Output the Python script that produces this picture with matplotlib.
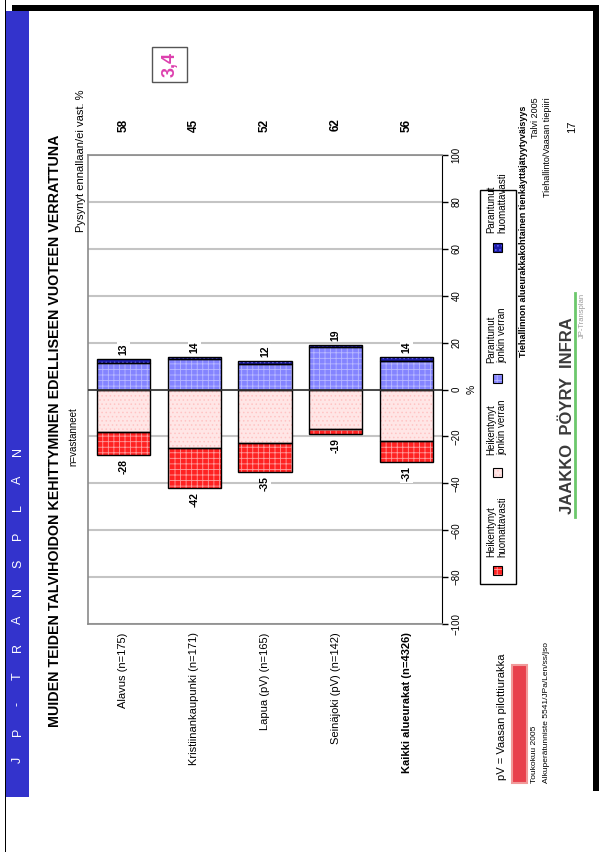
import matplotlib
matplotlib.use('Agg')
import matplotlib.pyplot as plt
from matplotlib.patches import Rectangle
from matplotlib.lines import Line2D
from matplotlib.transforms import blended_transform_factory

plt.rcParams['font.family'] = ['Liberation Sans', 'DejaVu Sans']
plt.rcParams['hatch.linewidth'] = 0.6

# Survey results per area (% of respondents)
categories = ['Alavus (n=175)', 'Kristiinankaupunki (n=171)', 'Lapua (pV) (n=165)',
              'Seinäjoki (pV) (n=142)', 'Kaikki alueurakat (n=4326)']
heik_huom = [-10, -17, -12, -2, -9]        # Heikentynyt huomattavasti
heik_jonkin = [-18, -25, -23, -17, -22]    # Heikentynyt jonkin verran
par_jonkin = [11.5, 13, 11, 18, 12]        # Parantunut jonkin verran
par_huom = [1.5, 1, 1, 1, 2]               # Parantunut huomattavasti
pysynyt = [58, 45, 52, 62, 56]             # Pysynyt ennallaan / ei vastausta
series_names = ['Heikentynyt\nhuomattavasti', 'Heikentynyt\njonkin verran',
                'Parantunut\njonkin verran', 'Parantunut\nhuomattavasti']

# fill, hatch, hatch colour per series
styles = [('#ff2222', '+++', '#ff9c9c'),
          ('#ffe6e6', '....', '#ffc4c4'),
          ('#8484ff', '+++', '#b8b8ff'),
          ('#1c1ca8', '....', '#6a6aff')]

W, H = 599, 852


def fx(px):
    return px / W


def fy(py):
    return 1 - py / H


fig = plt.figure(figsize=(W / 100, H / 100), dpi=100)
ax = fig.add_axes([fx(88), fy(624), fx(442) - fx(88), fy(155) - fy(624)])
tb = blended_transform_factory(ax.transData, fig.transFigure)

x = list(range(len(categories)))
bw = 0.75


def draw_bar(heights, bottoms, style):
    face, hatch, hcol = style
    ax.bar(x, heights, bw, bottom=bottoms, color=face, hatch=hatch,
           edgecolor=hcol, linewidth=0, zorder=3)
    ax.bar(x, heights, bw, bottom=bottoms, fill=False,
           edgecolor='black', linewidth=1, zorder=4)


draw_bar(heik_jonkin, [0] * 5, styles[1])
draw_bar(heik_huom, heik_jonkin, styles[0])
draw_bar(par_jonkin, [0] * 5, styles[2])
draw_bar(par_huom, par_jonkin, styles[3])

ax.set_xlim(-0.5, 4.5)
ax.set_ylim(-100, 100)
ax.set_yticks(range(-100, 101, 20))
ax.yaxis.tick_right()
ax.yaxis.grid(True, color='#c4c4c4', linewidth=1.5, zorder=0)
ax.set_axisbelow(True)
ax.axhline(0, color='#333333', linewidth=1.2, zorder=5)
ax.tick_params(axis='y', direction='out', length=4, width=1, pad=3,
               labelsize=7, labelrotation=90, right=True, left=False)
for lbl in ax.get_yticklabels():
    lbl.set_va('center')
for side in ['left', 'top', 'bottom']:
    ax.spines[side].set_color('#8a8a8a')
    ax.spines[side].set_linewidth(1.2)
ax.spines['right'].set_color('black')

ax.set_xticks(x)
ax.set_xticklabels(categories, rotation=90, fontsize=8)
ax.tick_params(axis='x', length=0, pad=6)
ax.get_xticklabels()[-1].set_fontweight('bold')

# totals at the bar ends
box = dict(facecolor='white', edgecolor='none', pad=1)
for i in x:
    neg = heik_jonkin[i] + heik_huom[i]
    pos = par_jonkin[i] + par_huom[i]
    ax.annotate(f'{pos:.0f}', (i, pos), xytext=(0, 3), textcoords='offset points',
                rotation=90, ha='center', va='bottom', fontsize=7.5,
                fontweight='bold', bbox=box, zorder=6)
    ax.annotate(f'{neg:.0f}', (i, neg), xytext=(0, -3), textcoords='offset points',
                rotation=90, ha='center', va='top', fontsize=7.5,
                fontweight='bold', bbox=box, zorder=6)
    ax.text(i, fy(125), str(pysynyt[i]), transform=tb, rotation=90,
            ha='center', va='center', fontsize=8.5, fontweight='bold')

fig.text(fx(81.5), fy(90), 'Pysynyt ennallaan/ei vast. %', rotation=90,
         ha='center', va='top', fontsize=8)
fig.text(fx(472), fy(389), '%', rotation=90, ha='center', va='center', fontsize=7.5)

# titles
fig.text(fx(55), fy(431), 'MUIDEN TEIDEN TALVIHOIDON KEHITTYMINEN EDELLISEEN VUOTEEN VERRATTUNA',
         rotation=90, ha='center', va='center', fontsize=10.3, fontweight='bold')
fig.text(fx(73), fy(437), 'n=vastanneet', rotation=90, ha='center', va='center', fontsize=7)

# legend
fig.add_artist(Rectangle((fx(480), fy(584)), fx(516) - fx(480), fy(190) - fy(584),
                         transform=fig.transFigure, fill=False, edgecolor='black', lw=1))
square_y = [570, 472, 378, 248]
text_y = [557, 455, 363, 233]
for name, st, sy, ty in zip(series_names, styles, square_y, text_y):
    face, hatch, hcol = st
    r = (fx(492.5), fy(sy + 4.5), 9 / W, 9 / H)
    fig.add_artist(Rectangle(r[:2], r[2], r[3], transform=fig.transFigure,
                             facecolor=face, hatch=hatch, edgecolor=hcol, lw=0))
    fig.add_artist(Rectangle(r[:2], r[2], r[3], transform=fig.transFigure,
                             fill=False, edgecolor='black', lw=0.8))
    fig.text(fx(497), fy(ty), name, rotation=90, ha='center', va='bottom',
             multialignment='left', fontsize=7, linespacing=1.15)

# slide frame and side band
fig.add_artist(Rectangle((fx(5), 0), 1.2 / W, 1, transform=fig.transFigure,
                         color='black', lw=0))
fig.add_artist(Rectangle((fx(12), fy(11)), fx(599) - fx(12), 6 / H,
                         transform=fig.transFigure, color='black', lw=0))
fig.add_artist(Rectangle((fx(593), fy(791)), 6 / W, fy(11) - fy(791),
                         transform=fig.transFigure, color='black', lw=0))
fig.add_artist(Rectangle((fx(6), fy(797)), 23 / W, fy(11) - fy(797),
                         transform=fig.transFigure, color='#3333cc', lw=0))
for k, ch in enumerate('JP-TRANSPLAN'):
    fig.text(fx(18), fy(760 - k * 28), ch, rotation=90, ha='center', va='center',
             color='white', fontsize=9)

# slide number box
fig.add_artist(Rectangle((fx(152), fy(82)), 35 / W, 35 / H, transform=fig.transFigure,
                         fill=False, edgecolor='#555555', lw=1))
fig.text(fx(170), fy(64.5), '3,4', rotation=90, ha='center', va='center',
         color='#dd3fae', fontsize=13, fontweight='bold')

# footer texts
fig.text(fx(524), fy(106), 'Tiehallinnon alueurakkakohtainen tienkäyttäjätyytyväisyys',
         rotation=90, ha='center', va='top', fontsize=6.5, fontweight='bold')
fig.text(fx(535), fy(97), 'Talvi 2005', rotation=90, ha='center', va='top', fontsize=6.5)
fig.text(fx(547), fy(97), 'Tiehallinto/Vaasan tiepiiri', rotation=90, ha='center',
         va='top', fontsize=6.5)
fig.text(fx(572), fy(127), '17', rotation=90, ha='center', va='center', fontsize=8)

fig.text(fx(502), fy(780), 'pV = Vaasan pilottiurakka', rotation=90, ha='center',
         va='bottom', fontsize=8)
fig.add_artist(Rectangle((fx(512), fy(783)), 15 / W, fy(665) - fy(783),
                         transform=fig.transFigure, facecolor='#e8404c',
                         edgecolor='#f19a9a', lw=1.5))
fig.text(fx(535), fy(783), 'Toukokuu 2005', rotation=90, ha='center', va='bottom',
         fontsize=6)
fig.text(fx(546), fy(783), 'Alkuperätunniste 5541/JPa/Len/ss/jso', rotation=90,
         ha='center', va='bottom', fontsize=6)

# company logo
fig.text(fx(567), fy(514), 'JAAKKO  PÖYRY  INFRA', rotation=90, ha='center',
         va='bottom', fontsize=12, fontweight='bold', color='#3a3a3a')
fig.add_artist(Line2D([fx(575), fx(575)], [fy(517), fy(293)], transform=fig.transFigure,
                      color='#6cc86c', lw=2))
fig.text(fx(582), fy(293), 'JP-Transplan', rotation=90, ha='center', va='top',
         fontsize=5.5, color='#9a9a9a')

fig.savefig('out.png', dpi=100)
